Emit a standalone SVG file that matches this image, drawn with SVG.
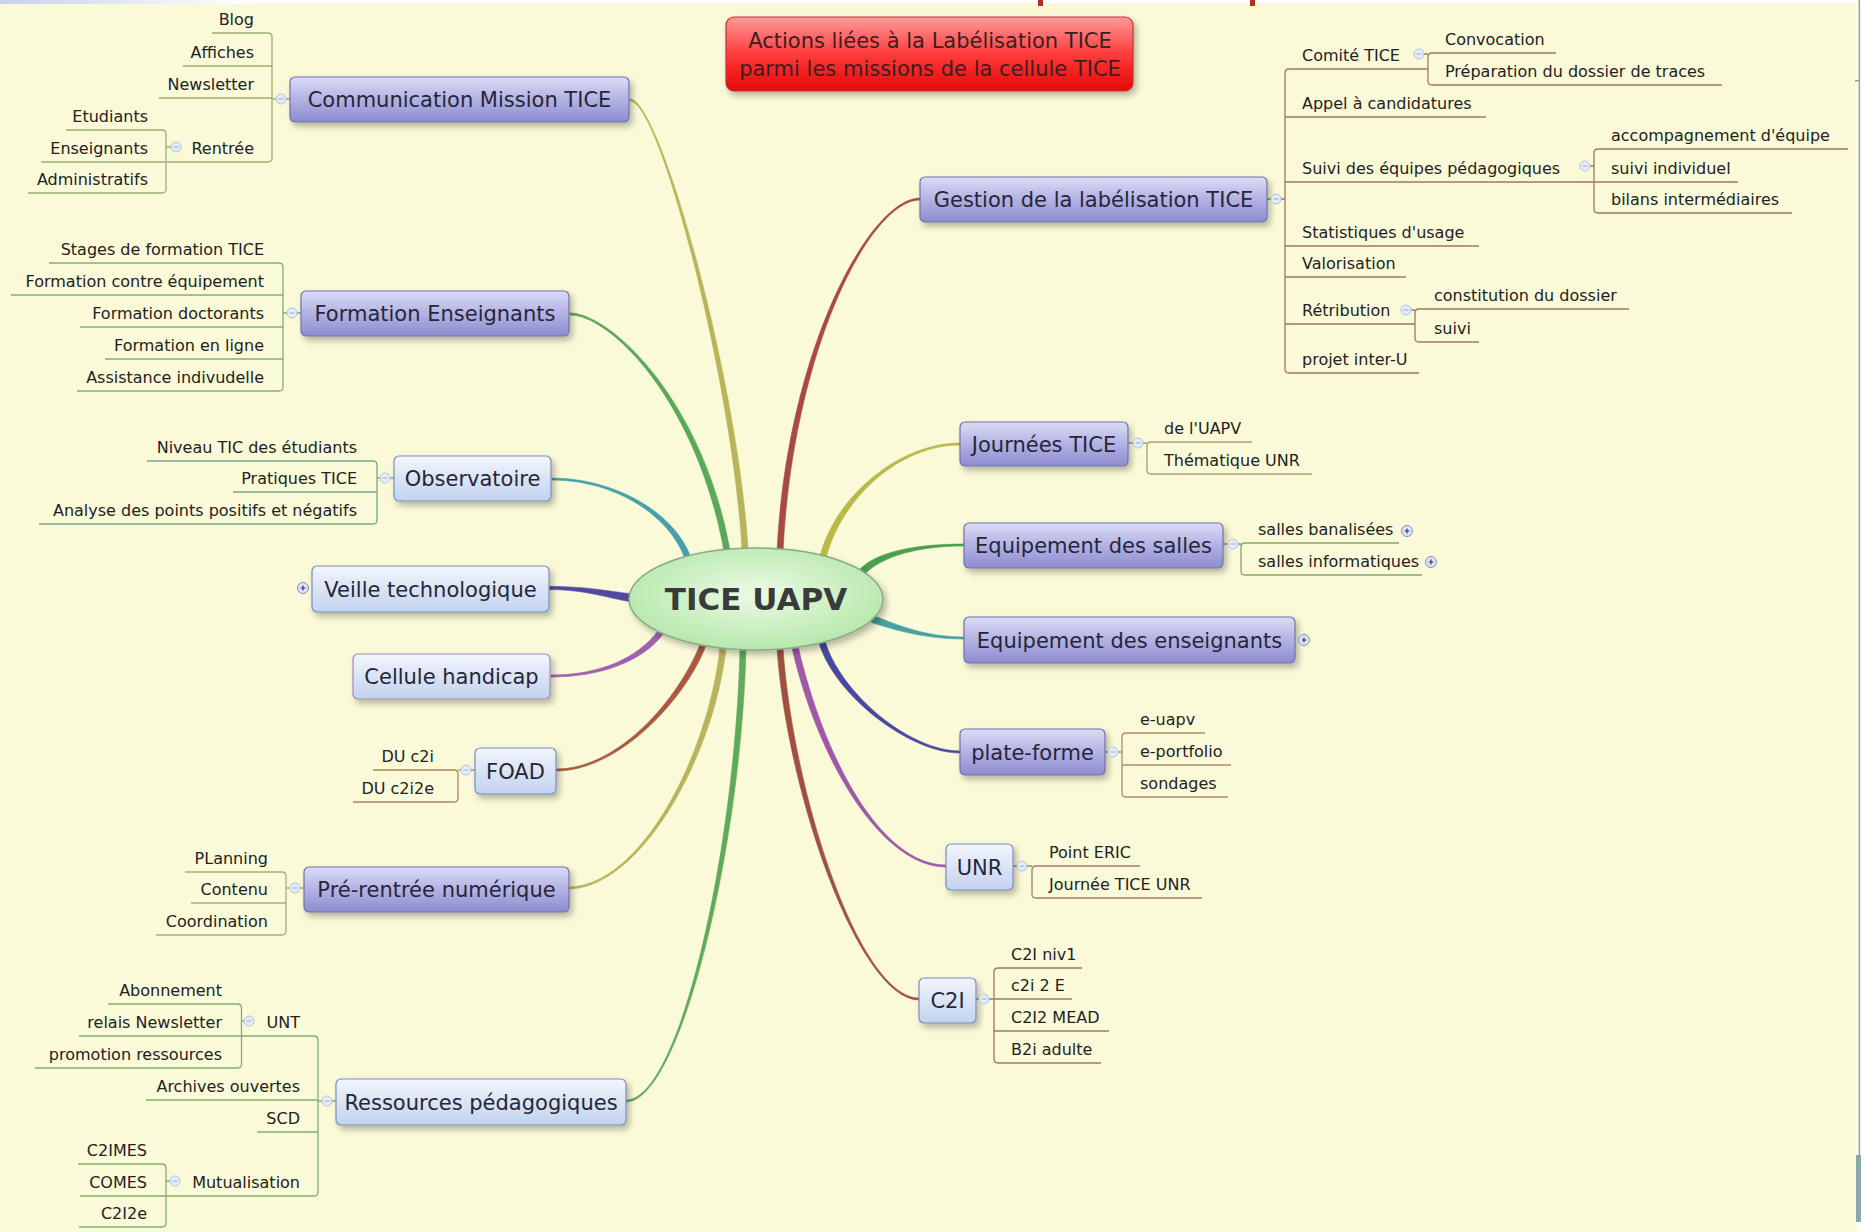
<svg xmlns="http://www.w3.org/2000/svg" width="1865" height="1232" viewBox="0 0 1865 1232">
<defs>
<style>
.sub{font-family:"DejaVu Sans","Liberation Sans",sans-serif;font-size:16px;fill:#222}
.l{text-anchor:end}
.tp{font-family:"DejaVu Sans","Liberation Sans",sans-serif;font-size:21px;fill:#262638;text-anchor:middle}
.ln{fill:none;stroke-width:1.3}
.bP{fill:url(#gP);stroke:#7070ac;stroke-width:1.2;filter:url(#sh)}
.bB{fill:url(#gB);stroke:#7c8cbc;stroke-width:1.2;filter:url(#sh)}
.cv{stroke-width:0.6}
</style>
<linearGradient id="gP" x1="0" y1="0" x2="0" y2="1">
<stop offset="0" stop-color="#dcdcf6"/><stop offset="0.45" stop-color="#b6b6e6"/><stop offset="1" stop-color="#8c8cd0"/>
</linearGradient>
<linearGradient id="gB" x1="0" y1="0" x2="0" y2="1">
<stop offset="0" stop-color="#f2f6fd"/><stop offset="1" stop-color="#c2d2ef"/>
</linearGradient>
<linearGradient id="gR" x1="0" y1="0" x2="0" y2="1">
<stop offset="0" stop-color="#ff9a9a"/><stop offset="0.5" stop-color="#ff3c3c"/><stop offset="1" stop-color="#e60606"/>
</linearGradient>
<radialGradient id="gE" cx="0.5" cy="0.45" r="0.6">
<stop offset="0" stop-color="#ecfbe6"/><stop offset="1" stop-color="#b2e6a6"/>
</radialGradient>
<linearGradient id="gS" x1="0" y1="0" x2="1" y2="0">
<stop offset="0" stop-color="#c8d0ec"/><stop offset="1" stop-color="#ffffff"/>
</linearGradient>
<filter id="sh" x="-10%" y="-30%" width="125%" height="170%">
<feDropShadow dx="3" dy="4" stdDeviation="3" flood-color="#000" flood-opacity="0.28"/>
</filter>
<g id="mn"><circle r="5" fill="#e4ecf8" stroke="#b0c4e0" stroke-width="1"/><path d="M-2.5,0H2.5" stroke="#9ab0d8" stroke-width="1"/></g>
<g id="pl"><circle r="5.5" fill="#e0e6f6" stroke="#8090c0" stroke-width="1"/><path d="M-2.5,0H2.5M0,-2.5V2.5" stroke="#303880" stroke-width="1.2"/></g>
</defs>

<rect x="0" y="0" width="1865" height="1232" fill="#ffffff"/>
<rect x="0" y="3" width="1857" height="1229" fill="#fafad8"/>
<rect x="0" y="0" width="250" height="4" fill="url(#gS)"/>
<rect x="1038" y="0" width="5" height="6" fill="#b03020"/>
<rect x="1250" y="0" width="5" height="6" fill="#b03020"/>
<rect x="1858.5" y="0" width="1.6" height="1155" fill="#8aa8a8"/>
<rect x="1855" y="80" width="4" height="1.5" fill="#8aa8a8"/>
<rect x="1856" y="1155" width="5" height="67" fill="#8aa8a8"/>

<g id="connectors">
<path class="cv" fill="#b8b45a" stroke="#b8b45a" d="M630,101 C660,101 732,380 742,549 L748,549 C738,380 660,99 630,99 Z"/>
<path class="cv" fill="#5aa85a" stroke="#5aa85a" d="M570,315 C610,315 697,400.5 724,551.5 L730,550.5 C703,399.5 610,313 570,313 Z"/>
<path class="cv" fill="#4aa0a8" stroke="#4aa0a8" d="M552,480 C610,480 667.2,511 685.2,559 L690.8,557 C672.8,509 610,478 552,478 Z"/>
<path class="cv" fill="#5048a0" stroke="#5048a0" d="M549,589.6 C590,589.6 612,600 634,602 L634,594 C612,592 590,586.4 549,586.4 Z"/>
<path class="cv" fill="#a060b0" stroke="#a060b0" d="M551,677 C600,677 642.4,661.8 663.4,633.8 L658.6,630.2 C637.6,658.2 600,675 551,675 Z"/>
<path class="cv" fill="#a85a40" stroke="#a85a40" d="M556,771 C620,771 685.8,698.1 705.8,646.1 L700.2,643.9 C680.2,695.9 620,769 556,769 Z"/>
<path class="cv" fill="#b8b45a" stroke="#b8b45a" d="M568,889 C640,889 714,757.3 726,648.3 L720,647.7 C708,756.7 640,887 568,887 Z"/>
<path class="cv" fill="#60aa5a" stroke="#60aa5a" d="M626,1102 C680,1102 741,850 746,649 L740,649 C735,850 680,1100 626,1100 Z"/>
<path class="cv" fill="#a84a40" stroke="#a84a40" d="M920,198 C870,198 787,350 777,551 L783,551 C793,350 870,200 920,200 Z"/>
<path class="cv" fill="#bab848" stroke="#bab848" d="M960,443 C900,443 836,495 820,556 L826,558 C842,497 900,445 960,445 Z"/>
<path class="cv" fill="#48a050" stroke="#48a050" d="M964,544 C920,544 877.5,550.6 859.5,569.6 L864.5,574.4 C882.5,555.4 920,546 964,546 Z"/>
<path class="cv" fill="#48a0a0" stroke="#48a0a0" d="M964,637 C920,637 889,620.7 873,615.7 L871,622.3 C887,627.3 920,639 964,639 Z"/>
<path class="cv" fill="#4848a0" stroke="#4848a0" d="M960,751 C910,751 841,694 825,641 L819,643 C835,696 910,753 960,753 Z"/>
<path class="cv" fill="#a058a8" stroke="#a058a8" d="M946,865 C880,865 823,755 798,646 L792,648 C817,757 880,867 946,867 Z"/>
<path class="cv" fill="#a05040" stroke="#a05040" d="M919,998 C860,998 793,796 783,648 L777,648 C787,796 860,1000 919,1000 Z"/>

<g class="ln" stroke="#9cb070">
<path d="M212,33 H268 Q272,33 272,37 V158 Q272,162 268,162 H167"/>
<path d="M183,66 H272 M159,98 H272 M290,99 H272"/>
<path d="M66,130 H162 Q166,130 166,134 V189 Q166,193 162,193 H28"/>
<path d="M41,162 H166 M171,147 H166"/>
</g>
<g class="ln" stroke="#80b070">
<path d="M49,263 H279 Q283,263 283,267 V387 Q283,391 279,391 H77"/>
<path d="M11,295 H283 M80,327 H283 M105,359 H283 M301,313 H283"/>
</g>
<g class="ln" stroke="#78a888">
<path d="M147,461 H373 Q377,461 377,465 V520 Q377,524 373,524 H39"/>
<path d="M233,492 H377 M394,478 H377"/>
</g>
<g class="ln" stroke="#a88860">
<path d="M373,770 H454 Q458,770 458,774 V798 Q458,802 454,802 H353"/>
<path d="M475,770 H458"/>
</g>
<g class="ln" stroke="#a8b070">
<path d="M185,872 H282 Q286,872 286,876 V931 Q286,935 282,935 H156"/>
<path d="M191,903 H286 M304,888 H286"/>
</g>
<g class="ln" stroke="#80b070">
<path d="M241,1036 H314 Q318,1036 318,1040 V1192 Q318,1196 314,1196 H166"/>
<path d="M146,1100 H318 M257,1132 H318 M336,1101 H318"/>
<path d="M108,1004 H237.5 Q241.5,1004 241.5,1008 V1064 Q241.5,1068 237.5,1068 H35"/>
<path d="M79,1036 H241.5 M244,1021 H241.5"/>
<path d="M78,1164 H162 Q166,1164 166,1168 V1223 Q166,1227 162,1227 H79"/>
<path d="M80,1196 H166 M170,1181 H166"/>
</g>
<g class="ln" stroke="#a07a55">
<path d="M1428,69 H1289 Q1285,69 1285,73 V369 Q1285,373 1289,373 H1419"/>
<path d="M1285,117 H1486 M1285,182 H1594 M1285,246 H1479 M1285,277 H1406 M1285,324 H1415 M1267,199 H1285"/>
<path d="M1556,53 H1432 Q1428,53 1428,57 V81 Q1428,85 1432,85 H1722 M1424,54 H1428"/>
<path d="M1848,149 H1598 Q1594,149 1594,153 V209 Q1594,213 1598,213 H1792 M1594,182 H1738 M1590,166 H1594"/>
<path d="M1629,309 H1419 Q1415,309 1415,313 V338 Q1415,342 1419,342 H1479 M1411,310 H1415"/>
</g>
<g class="ln" stroke="#a8a070">
<path d="M1252,442 H1151 Q1147,442 1147,446 V470 Q1147,474 1151,474 H1312 M1128,443 H1147"/>
</g>
<g class="ln" stroke="#80a870">
<path d="M1399,543 H1245 Q1241,543 1241,547 V571 Q1241,575 1245,575 H1422 M1223,544 H1241"/>
</g>
<g class="ln" stroke="#a89070">
<path d="M1205,733 H1126 Q1122,733 1122,737 V793 Q1122,797 1126,797 H1228 M1122,765 H1231 M1105,752 H1122"/>
</g>
<g class="ln" stroke="#a08070">
<path d="M1140,866 H1036 Q1032,866 1032,870 V894 Q1032,898 1036,898 H1202 M1013,866 H1032"/>
</g>
<g class="ln" stroke="#a07a55">
<path d="M1082,968 H998 Q994,968 994,972 V1059 Q994,1063 998,1063 H1101 M994,999 H1072 M994,1031 H1109 M976,999 H994"/>
</g>
</g>

<g id="n-center">
<ellipse cx="756" cy="599" rx="127" ry="51" fill="url(#gE)" stroke="#8aa888" stroke-width="1.5" filter="url(#sh)"/>
<text x="756" y="610" text-anchor="middle" font-family="DejaVu Sans, Liberation Sans, sans-serif" font-weight="bold" font-size="31" fill="#3a3a3a">TICE UAPV</text>
</g>

<g id="n-title">
<rect x="726" y="17" width="407" height="74" rx="8" fill="url(#gR)" stroke="#c83030" stroke-width="1.2" filter="url(#sh)"/>
<text class="tp" x="930" y="47.5" style="fill:#3a2020">Actions liées à la Labélisation TICE</text>
<text class="tp" x="930" y="75.5" style="fill:#3a2020">parmi les missions de la cellule TICE</text>
</g>

<g id="n-communication"><rect class="bP" x="290" y="77" width="339" height="45" rx="5"/><text class="tp" x="459.5" y="107">Communication Mission TICE</text><use href="#mn" x="281" y="99"/></g>
<g id="n-formation"><rect class="bP" x="301" y="291" width="268" height="45" rx="5"/><text class="tp" x="435" y="321">Formation Enseignants</text><use href="#mn" x="292" y="313"/></g>
<g id="n-observatoire"><rect class="bB" x="394" y="456" width="157" height="45" rx="5"/><text class="tp" x="472.5" y="486">Observatoire</text><use href="#mn" x="385" y="478"/></g>
<g id="n-veille"><rect class="bB" x="312" y="566" width="237" height="46" rx="5"/><text class="tp" x="430.5" y="596.5">Veille technologique</text><use href="#pl" x="303" y="588"/></g>
<g id="n-cellule"><rect class="bB" x="353" y="654" width="197" height="45" rx="5" style="stroke:#a888b8"/><text class="tp" x="451.5" y="684">Cellule handicap</text></g>
<g id="n-foad"><rect class="bB" x="475" y="748" width="81" height="46" rx="5"/><text class="tp" x="515.5" y="778.5">FOAD</text><use href="#mn" x="466" y="770"/></g>
<g id="n-prerentree"><rect class="bP" x="304" y="867" width="265" height="45" rx="5"/><text class="tp" x="436.5" y="897">Pré-rentrée numérique</text><use href="#mn" x="295" y="888"/></g>
<g id="n-ressources"><rect class="bB" x="336" y="1079" width="290" height="46" rx="5"/><text class="tp" x="481" y="1109.5">Ressources pédagogiques</text><use href="#mn" x="327" y="1101"/></g>
<g id="n-gestion"><rect class="bP" x="920" y="177" width="347" height="45" rx="5"/><text class="tp" x="1093.5" y="207">Gestion de la labélisation TICE</text><use href="#mn" x="1276" y="199"/></g>
<g id="n-journees"><rect class="bP" x="960" y="422" width="168" height="44" rx="5"/><text class="tp" x="1044" y="451.5">Journées TICE</text><use href="#mn" x="1138" y="443"/></g>
<g id="n-equip-salles"><rect class="bP" x="964" y="523" width="259" height="45" rx="5"/><text class="tp" x="1093.5" y="553">Equipement des salles</text><use href="#mn" x="1233" y="544"/></g>
<g id="n-equip-ens"><rect class="bP" x="964" y="617" width="331" height="46" rx="5"/><text class="tp" x="1129.5" y="647.5">Equipement des enseignants</text><use href="#pl" x="1304" y="640"/></g>
<g id="n-plateforme"><rect class="bP" x="960" y="729" width="145" height="46" rx="5"/><text class="tp" x="1032.5" y="759.5">plate-forme</text><use href="#mn" x="1113" y="752"/></g>
<g id="n-unr"><rect class="bB" x="946" y="844" width="67" height="46" rx="5"/><text class="tp" x="979.5" y="874.5">UNR</text><use href="#mn" x="1022" y="866"/></g>
<g id="n-c2i"><rect class="bB" x="919" y="978" width="57" height="45" rx="5"/><text class="tp" x="947.5" y="1008">C2I</text><use href="#mn" x="984" y="999"/></g>

<g id="s-blog"><text class="sub l" x="254" y="25">Blog</text></g>
<g id="s-affiches"><text class="sub l" x="254" y="58">Affiches</text></g>
<g id="s-newsletter"><text class="sub l" x="254" y="90">Newsletter</text></g>
<g id="s-rentree"><text class="sub l" x="254" y="154">Rentrée</text><use href="#mn" x="176" y="147"/></g>
<g id="s-etudiants"><text class="sub l" x="148" y="122">Etudiants</text></g>
<g id="s-enseignants"><text class="sub l" x="148" y="154">Enseignants</text></g>
<g id="s-administratifs"><text class="sub l" x="148" y="185">Administratifs</text></g>

<g id="s-stages"><text class="sub l" x="264" y="255">Stages de formation TICE</text></g>
<g id="s-contre"><text class="sub l" x="264" y="287">Formation contre équipement</text></g>
<g id="s-doctorants"><text class="sub l" x="264" y="319">Formation doctorants</text></g>
<g id="s-enligne"><text class="sub l" x="264" y="351">Formation en ligne</text></g>
<g id="s-assistance"><text class="sub l" x="264" y="383">Assistance indivudelle</text></g>

<g id="s-niveau"><text class="sub l" x="357" y="453">Niveau TIC des étudiants</text></g>
<g id="s-pratiques"><text class="sub l" x="357" y="484">Pratiques TICE</text></g>
<g id="s-analyse"><text class="sub l" x="357" y="516">Analyse des points positifs et négatifs</text></g>

<g id="s-duc2i"><text class="sub l" x="434" y="762">DU c2i</text></g>
<g id="s-duc2i2e"><text class="sub l" x="434" y="794">DU c2i2e</text></g>

<g id="s-planning"><text class="sub l" x="268" y="864">PLanning</text></g>
<g id="s-contenu"><text class="sub l" x="268" y="895">Contenu</text></g>
<g id="s-coordination"><text class="sub l" x="268" y="927">Coordination</text></g>

<g id="s-unt"><text class="sub l" x="300" y="1028">UNT</text><use href="#mn" x="249" y="1021"/></g>
<g id="s-abonnement"><text class="sub l" x="222" y="996">Abonnement</text></g>
<g id="s-relais"><text class="sub l" x="222" y="1028">relais Newsletter</text></g>
<g id="s-promotion"><text class="sub l" x="222" y="1060">promotion ressources</text></g>
<g id="s-archives"><text class="sub l" x="300" y="1092">Archives ouvertes</text></g>
<g id="s-scd"><text class="sub l" x="300" y="1124">SCD</text></g>
<g id="s-mutualisation"><text class="sub l" x="300" y="1188">Mutualisation</text><use href="#mn" x="175" y="1181"/></g>
<g id="s-c2imes"><text class="sub l" x="147" y="1156">C2IMES</text></g>
<g id="s-comes"><text class="sub l" x="147" y="1188">COMES</text></g>
<g id="s-c2i2e"><text class="sub l" x="147" y="1219">C2I2e</text></g>

<g id="s-comite"><text class="sub" x="1302" y="61">Comité TICE</text><use href="#mn" x="1419" y="54"/></g>
<g id="s-convocation"><text class="sub" x="1445" y="45">Convocation</text></g>
<g id="s-preparation"><text class="sub" x="1445" y="77">Préparation du dossier de traces</text></g>
<g id="s-appel"><text class="sub" x="1302" y="109">Appel à candidatures</text></g>
<g id="s-suivi-equipes"><text class="sub" x="1302" y="174">Suivi des équipes pédagogiques</text><use href="#mn" x="1585" y="166"/></g>
<g id="s-accompagnement"><text class="sub" x="1611" y="141">accompagnement d'équipe</text></g>
<g id="s-suivi-individuel"><text class="sub" x="1611" y="174">suivi individuel</text></g>
<g id="s-bilans"><text class="sub" x="1611" y="205">bilans intermédiaires</text></g>
<g id="s-statistiques"><text class="sub" x="1302" y="238">Statistiques d'usage</text></g>
<g id="s-valorisation"><text class="sub" x="1302" y="269">Valorisation</text></g>
<g id="s-retribution"><text class="sub" x="1302" y="316">Rétribution</text><use href="#mn" x="1406" y="310"/></g>
<g id="s-constitution"><text class="sub" x="1434" y="301">constitution du dossier</text></g>
<g id="s-suivi"><text class="sub" x="1434" y="334">suivi</text></g>
<g id="s-projet"><text class="sub" x="1302" y="365">projet inter-U</text></g>

<g id="s-uapv"><text class="sub" x="1164" y="434">de l'UAPV</text></g>
<g id="s-thematique"><text class="sub" x="1164" y="466">Thématique UNR</text></g>
<g id="s-banalisees"><text class="sub" x="1258" y="535">salles banalisées</text><use href="#pl" x="1407" y="531"/></g>
<g id="s-informatiques"><text class="sub" x="1258" y="567">salles informatiques</text><use href="#pl" x="1431" y="562"/></g>
<g id="s-euapv"><text class="sub" x="1140" y="725">e-uapv</text></g>
<g id="s-eportfolio"><text class="sub" x="1140" y="757">e-portfolio</text></g>
<g id="s-sondages"><text class="sub" x="1140" y="789">sondages</text></g>
<g id="s-pointeric"><text class="sub" x="1049" y="858">Point ERIC</text></g>
<g id="s-journee-unr"><text class="sub" x="1049" y="890">Journée TICE UNR</text></g>
<g id="s-c2iniv1"><text class="sub" x="1011" y="960">C2I niv1</text></g>
<g id="s-c2i2e-r"><text class="sub" x="1011" y="991">c2i 2 E</text></g>
<g id="s-c2i2mead"><text class="sub" x="1011" y="1023">C2I2 MEAD</text></g>
<g id="s-b2i"><text class="sub" x="1011" y="1055">B2i adulte</text></g>
</svg>
